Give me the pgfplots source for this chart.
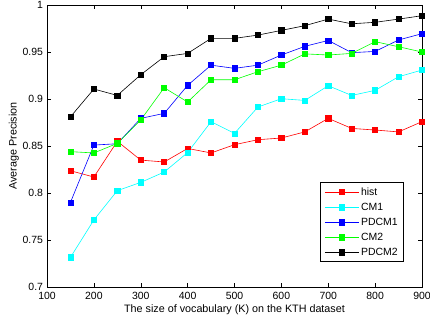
\documentclass[border=0pt]{standalone}
\usepackage{pgfplots}
\pgfplotsset{compat=1.18}
\usepackage{fontspec}
\setmainfont{Liberation Sans}
\usetikzlibrary{calc}
\definecolor{mred}{RGB}{255,0,0}
\definecolor{mcyan}{RGB}{0,255,255}
\definecolor{mblue}{RGB}{0,0,255}
\definecolor{mgreen}{RGB}{0,255,0}
\begin{document}
\begin{tikzpicture}
\begin{axis}[
  name=ax,
  scale only axis,
  width=375bp, height=282bp,
  xmin=100, xmax=900, ymin=0.7, ymax=1,
  xtick={100,200,...,900},
  ytick={0.7,0.75,0.8,0.85,0.9,0.95,1},
  yticklabels={0.7,0.75,0.8,0.85,0.9,0.95,1},
  tick align=inside,
  major tick length=4bp,
  axis line style={line width=0.9bp},
  tick style={line width=0.5bp, black},
  /pgf/number format/assume math mode=true,
  ticklabel style={font=\fontsize{10.5}{12}\selectfont},
  xticklabel style={yshift=-1.5bp},
  yticklabel style={xshift=-0.5bp},
  label style={font=\fontsize{10.8}{12}\selectfont},
  xlabel={The size of vocabulary (K) on the KTH dataset},
  ylabel={Average Precision},
  xlabel style={yshift=1.5bp},
  ylabel style={yshift=-3bp},
  legend style={at={(0.952,0.089)}, anchor=south east, font=\fontsize{10.5}{12}\selectfont,
    draw=black, line width=0.6bp, inner xsep=4bp, inner ysep=3bp, row sep=2.2bp},
  legend cell align=left,
  legend image code/.code={\draw[#1] (0cm,0cm) -- (1.2cm,0cm); \draw[#1, only marks] plot coordinates {(0.6cm,0cm)};},
  every axis plot/.append style={line width=0.6bp, mark=square*, mark size=2.6bp},
]
\addplot[mred, mark options={fill=mred}] coordinates {
(150,0.8237)(200,0.817)(250,0.855)(300,0.835)(350,0.833)(400,0.8474)(450,0.8426)(500,0.8514)(550,0.8567)(600,0.8585)(650,0.865)(700,0.8794)(750,0.8687)(800,0.867)(850,0.865)(900,0.8759)};
\addlegendentry{hist}
\addplot[mcyan, mark options={fill=mcyan}] coordinates {
(150,0.7315)(200,0.7713)(250,0.8025)(300,0.8113)(350,0.8223)(400,0.843)(450,0.8759)(500,0.8634)(550,0.8915)(600,0.9003)(650,0.8985)(700,0.9141)(750,0.9038)(800,0.9092)(850,0.9237)(900,0.9308)};
\addlegendentry{CM1}
\addplot[mblue, mark options={fill=mblue}] coordinates {
(150,0.790)(200,0.851)(250,0.8524)(300,0.8794)(350,0.8847)(400,0.9145)(450,0.936)(500,0.9326)(550,0.936)(600,0.9468)(650,0.956)(700,0.9623)(750,0.9493)(800,0.9506)(850,0.9628)(900,0.9695)};
\addlegendentry{PDCM1}
\addplot[mgreen, mark options={fill=mgreen}] coordinates {
(150,0.844)(200,0.8426)(250,0.8528)(300,0.8777)(350,0.912)(400,0.8968)(450,0.9205)(500,0.9205)(550,0.929)(600,0.936)(650,0.948)(700,0.9468)(750,0.9485)(800,0.961)(850,0.9556)(900,0.950)};
\addlegendentry{CM2}
\addplot[black, mark options={fill=black}] coordinates {
(150,0.881)(200,0.9106)(250,0.9038)(300,0.9258)(350,0.945)(400,0.9485)(450,0.9645)(500,0.9645)(550,0.968)(600,0.973)(650,0.978)(700,0.985)(750,0.980)(800,0.9816)(850,0.985)(900,0.9886)};
\addlegendentry{PDCM2}
\end{axis}
\pgfresetboundingbox
\path ($(ax.south west)+(-47bp,-37bp)$) rectangle ($(ax.north east)+(8bp,5bp)$);
\end{tikzpicture}
\end{document}
